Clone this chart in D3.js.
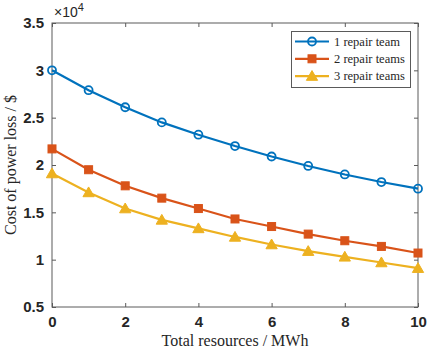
<!DOCTYPE html>
<html>
<head>
<meta charset="utf-8">
<script src="https://cdn.jsdelivr.net/npm/d3@7"></script>
<style>
  body { margin: 0; background: #fff; }
  .tick text { font-family: "Liberation Sans", Arial, sans-serif; font-weight: bold; font-size: 15px; fill: #262626; }
  .title { font-family: "Liberation Serif", "Times New Roman", serif; font-size: 16px; fill: #262626; }
  .leg { font-family: "Liberation Serif", "Times New Roman", serif; font-size: 12.5px; fill: #262626; }
</style>
</head>
<body>
<svg id="chart"></svg>
<script>
// data (x10^4 $)
var resources = [0, 1, 2, 3, 4, 5, 6, 7, 8, 9, 10];
var oneTeam   = [3.00, 2.79, 2.61, 2.45, 2.32, 2.20, 2.09, 1.99, 1.90, 1.82, 1.75];
var twoTeams  = [2.17, 1.95, 1.78, 1.65, 1.54, 1.43, 1.35, 1.27, 1.20, 1.14, 1.07];
var threeTeams = [1.91, 1.71, 1.54, 1.42, 1.33, 1.24, 1.16, 1.09, 1.03, 0.97, 0.91];
var seriesNames = ["1 repair team", "2 repair teams", "3 repair teams"];
var xTicks = [0, 2, 4, 6, 8, 10];
var yTicks = [0.5, 1, 1.5, 2, 2.5, 3, 3.5];

var width = 429, height = 349;
var margin = {top: 23, right: 11, bottom: 42, left: 52};

var svg = d3.select('#chart')
    .attr('width', width)
    .attr('height', height);

var x = d3.scaleLinear().domain([0, 10]).range([margin.left, width - margin.right]);
var y = d3.scaleLinear().domain([0.5, 3.5]).range([height - margin.bottom, margin.top]);

var axisColor = "#5a5a5a";

// frame
svg.append('rect')
    .attr('x', x(0)).attr('y', y(3.5))
    .attr('width', x(10) - x(0)).attr('height', y(0.5) - y(3.5))
    .attr('fill', 'none').attr('stroke', axisColor).attr('stroke-width', 1);

function styleAxis(g) {
    g.select('.domain').remove();
    g.selectAll('.tick line').attr('stroke', axisColor);
}

svg.append('g')
    .attr('transform', 'translate(0,' + y(0.5) + ')')
    .call(d3.axisBottom(x).tickValues(xTicks).tickSizeInner(-4).tickPadding(9).tickFormat(d3.format('d')))
    .call(styleAxis);
svg.append('g')
    .attr('transform', 'translate(0,' + y(3.5) + ')')
    .call(d3.axisTop(x).tickValues(xTicks).tickSizeInner(-4).tickFormat(''))
    .call(styleAxis);
svg.append('g')
    .attr('transform', 'translate(' + x(0) + ',0)')
    .call(d3.axisLeft(y).tickValues(yTicks).tickSizeInner(-4).tickPadding(8).tickFormat(function(d) { return d3.format('')(d); }))
    .call(styleAxis);
svg.append('g')
    .attr('transform', 'translate(' + x(10) + ',0)')
    .call(d3.axisRight(y).tickValues(yTicks).tickSizeInner(-4).tickFormat(''))
    .call(styleAxis);

// exponent label
var expo = svg.append('text')
    .attr('x', x(0) + 2).attr('y', 17)
    .style('font-family', '"Liberation Sans", Arial, sans-serif')
    .style('font-size', '14px').style('fill', '#262626');
expo.append('tspan').text('\u00d710');
expo.append('tspan').attr('dy', -6).style('font-size', '11px').text('4');

// axis titles
svg.append('text').attr('class', 'title')
    .attr('x', (x(0) + x(10)) / 2).attr('y', 346)
    .attr('text-anchor', 'middle')
    .text('Total resources / MWh');
svg.append('text').attr('class', 'title')
    .attr('transform', 'translate(16,' + ((y(0.5) + y(3.5)) / 2) + ') rotate(-90)')
    .attr('text-anchor', 'middle')
    .text('Cost of power loss / $');

var series = [
    {name: seriesNames[0], values: oneTeam, color: '#0072BD', marker: 'circle'},
    {name: seriesNames[1], values: twoTeams, color: '#D95319', marker: 'square'},
    {name: seriesNames[2], values: threeTeams, color: '#EDB120', marker: 'triangle'}
];

var line = d3.line()
    .x(function(d, i) { return x(resources[i]); })
    .y(function(d) { return y(d); });

function drawMarker(g, type, color, cx, cy) {
    if (type === 'circle') {
        g.append('circle').attr('cx', cx).attr('cy', cy).attr('r', 4)
            .attr('fill', 'none').attr('stroke', color).attr('stroke-width', 1.8);
    } else if (type === 'square') {
        g.append('rect').attr('x', cx - 4).attr('y', cy - 4).attr('width', 8).attr('height', 8)
            .attr('fill', color).attr('stroke', color).attr('stroke-width', 1);
    } else {
        g.append('path')
            .attr('d', d3.symbol(d3.symbolTriangle, 55)())
            .attr('transform', 'translate(' + cx + ',' + (cy + 1) + ')')
            .attr('fill', color).attr('stroke', color).attr('stroke-width', 1);
    }
}

series.forEach(function(s) {
    svg.append('path')
        .datum(s.values)
        .attr('d', line)
        .attr('fill', 'none')
        .attr('stroke', s.color)
        .attr('stroke-width', 2.2);
    var g = svg.append('g');
    s.values.forEach(function(v, i) {
        drawMarker(g, s.marker, s.color, x(resources[i]), y(v));
    });
});

// legend
var legend = svg.append('g');
legend.append('rect')
    .attr('x', 291.5).attr('y', 31.5).attr('width', 119).attr('height', 56)
    .attr('fill', '#fff').attr('stroke', axisColor).attr('stroke-width', 1);
series.forEach(function(s, i) {
    var ly = 41.5 + i * 17.3;
    legend.append('line')
        .attr('x1', 295).attr('x2', 329).attr('y1', ly).attr('y2', ly)
        .attr('stroke', s.color).attr('stroke-width', 2.2);
    drawMarker(legend, s.marker, s.color, 312, ly);
    legend.append('text').attr('class', 'leg')
        .attr('x', 334).attr('y', ly + 4)
        .text(s.name);
});
</script>
</body>
</html>
